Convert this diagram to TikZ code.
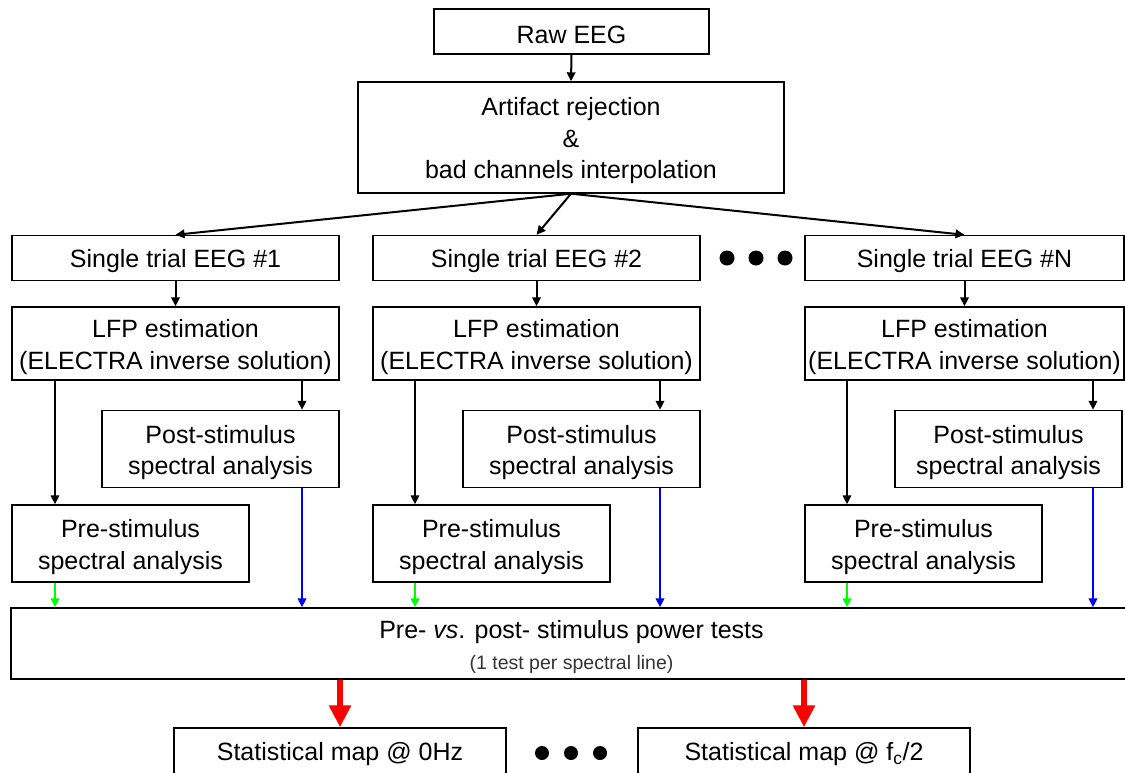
\documentclass[tikz,border=0pt]{standalone}
\usepackage{fontspec}
\setmainfont{Liberation Sans}
\usetikzlibrary{arrows.meta}
\definecolor{PreGreen}{HTML}{00FF00}
\definecolor{PostBlue}{HTML}{0000FF}
\definecolor{TestRed}{HTML}{FF0000}
\newcommand{\tophd}{\rule{0pt}{25pt}}

\tikzset{
  stage/.style={draw,line width=1.4pt,inner sep=0pt,align=center,
    font=\fontsize{25}{31.5}\selectfont},
  trialbox/.style={stage,minimum width=327pt,minimum height=45pt},
  lfpbox/.style={stage,minimum width=327pt,minimum height=73pt},
  specbox/.style={stage,minimum width=237pt,minimum height=77pt},
  flow/.style={-{Triangle[length=9pt,width=8.5pt]},line width=2pt},
  bigflow/.style={-{Triangle[length=22pt,width=21pt]},line width=6pt,TestRed},
}

\begin{document}
\begin{tikzpicture}[x=1pt,y=-1pt]
  \useasboundingbox (0,0) rectangle (1125,772);
  % preprocessing
  \node[stage,minimum width=275pt,minimum height=45pt] (raw) at (571.5,31.5) {\tophd Raw EEG};
  \node[stage,minimum width=426pt,minimum height=111pt] (artif) at (571,137.5)
    {\tophd Artifact rejection\\\&\\bad channels interpolation};
  % one column per trial
  \node[trialbox] (trial1) at (175.5,258) {\tophd Single trial EEG \#1};
  \node[trialbox] (trial2) at (536.5,258) {\tophd Single trial EEG \#2};
  \node[trialbox,minimum width=319pt] (trialN) at (964.5,258) {\tophd Single trial EEG \#N};
  \node[lfpbox] (lfp1) at (175.5,343.5) {\tophd LFP estimation\\(ELECTRA inverse solution)};
  \node[lfpbox] (lfp2) at (536.5,343.5) {\tophd LFP estimation\\(ELECTRA inverse solution)};
  \node[lfpbox,minimum width=319pt] (lfpN) at (964.5,343.5) {\tophd LFP estimation\\(ELECTRA inverse solution)};
  \node[specbox] (post1) at (220.5,449) {\tophd Post-stimulus\\spectral analysis};
  \node[specbox] (post2) at (581.5,449) {\tophd Post-stimulus\\spectral analysis};
  \node[specbox,minimum width=227pt] (postN) at (1008.5,449) {\tophd Post-stimulus\\spectral analysis};
  \node[specbox] (pre1) at (130.5,543.5) {\tophd Pre-stimulus\\spectral analysis};
  \node[specbox] (pre2) at (491.5,543.5) {\tophd Pre-stimulus\\spectral analysis};
  \node[specbox] (preN) at (923.5,543.5) {\tophd Pre-stimulus\\spectral analysis};
  % statistics
  \node[stage,minimum width=1121pt,minimum height=71pt] (tests) at (571.5,643.5)
    {\tophd Pre- \textit{vs}. post- stimulus power tests\\[0pt]
     {\fontsize{19.5}{22}\selectfont\color{black!80}(1 test per spectral line)}};
  \node[stage,minimum width=332pt,minimum height=46pt] (map0) at (340,751) {\tophd Statistical map @ 0Hz};
  \node[stage,minimum width=332pt,minimum height=46pt] (mapc) at (804,751)
    {\tophd Statistical map @ f\textsubscript{c}/2};
  \fill (727,258) circle (7.5) (756,258) circle (7.5) (785,258) circle (7.5);
  \fill (542,753) circle (7) (571,753) circle (7) (600,753) circle (7);
  % taps on the LFP boxes
  \coordinate (preTap1) at (55,0);
  \coordinate (preTap2) at (415,0);
  \coordinate (preTapN) at (847,0);
  \coordinate (postTap1) at (302,0);
  \coordinate (postTap2) at (660,0);
  \coordinate (postTapN) at (1093,0);

  \draw[flow] (raw.south) -- (artif.north);
  \draw[flow] (artif.south) -- (trial1.north);
  \draw[flow] (artif.south) -- (trial2.north);
  \draw[flow] (artif.south) -- (trialN.north);
  \draw[flow] (trial1.south) -- (lfp1.north);
  \draw[flow] (trial2.south) -- (lfp2.north);
  \draw[flow] (trialN.south) -- (lfpN.north);
  \draw[flow] (lfp1.south -| preTap1) -- (pre1.north -| preTap1);
  \draw[flow] (lfp2.south -| preTap2) -- (pre2.north -| preTap2);
  \draw[flow] (lfpN.south -| preTapN) -- (preN.north -| preTapN);
  \draw[flow] (lfp1.south -| postTap1) -- (post1.north -| postTap1);
  \draw[flow] (lfp2.south -| postTap2) -- (post2.north -| postTap2);
  \draw[flow] (lfpN.south -| postTapN) -- (postN.north -| postTapN);
  \draw[flow,PreGreen] (pre1.south -| preTap1) -- (tests.north -| preTap1);
  \draw[flow,PreGreen] (pre2.south -| preTap2) -- (tests.north -| preTap2);
  \draw[flow,PreGreen] (preN.south -| preTapN) -- (tests.north -| preTapN);
  \draw[flow,PostBlue] (post1.south -| postTap1) -- (tests.north -| postTap1);
  \draw[flow,PostBlue] (post2.south -| postTap2) -- (tests.north -| postTap2);
  \draw[flow,PostBlue] (postN.south -| postTapN) -- (tests.north -| postTapN);
  \draw[bigflow] (tests.south -| map0.north) -- (map0.north);
  \draw[bigflow] (tests.south -| mapc.north) -- (mapc.north);
\end{tikzpicture}
\end{document}
